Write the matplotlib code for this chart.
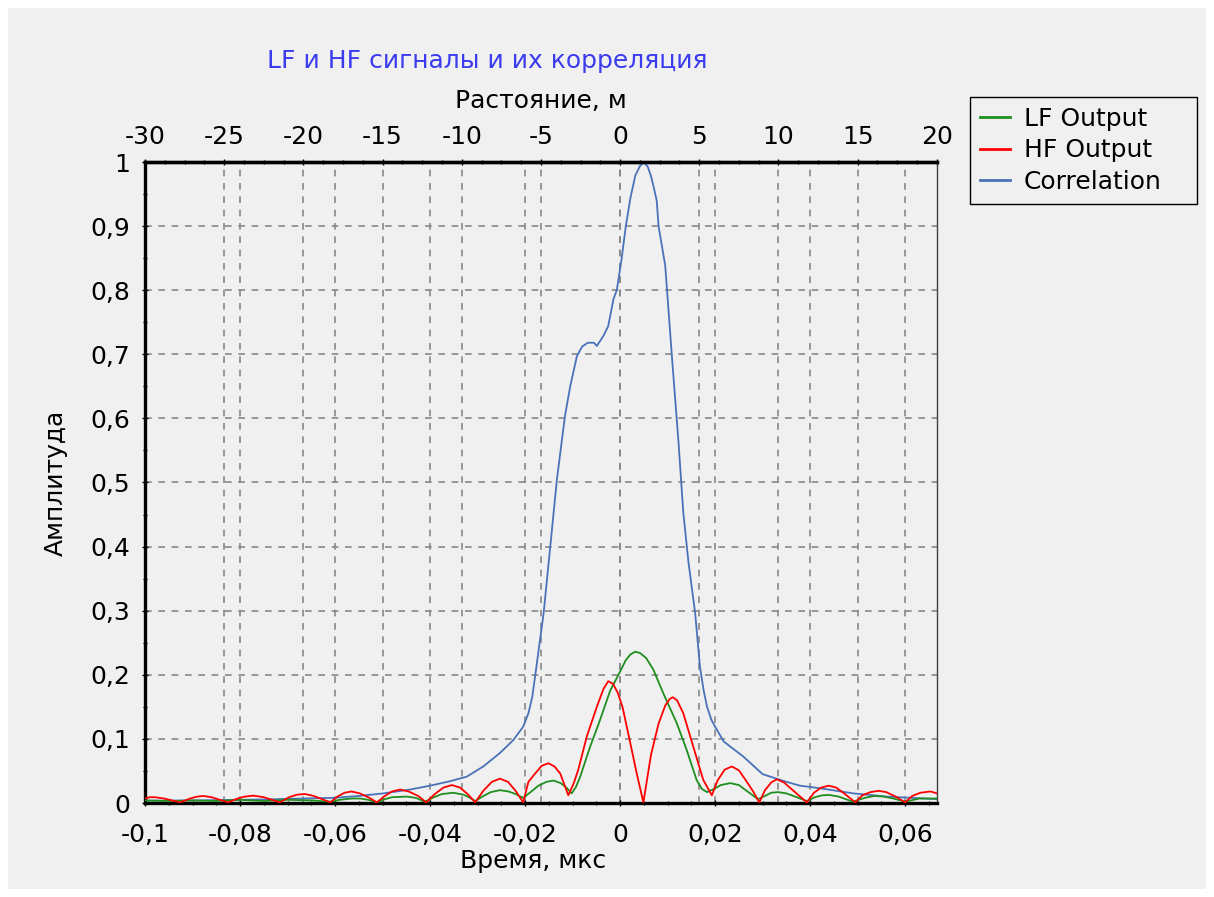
import matplotlib
matplotlib.use("Agg")
import matplotlib.pyplot as plt
from matplotlib.ticker import FixedLocator, AutoMinorLocator, FuncFormatter
from matplotlib.patches import Rectangle

plt.rcParams['font.family'] = ['DejaVu Sans']

# ---------------- data ----------------
title_text = "LF и HF сигналы и их корреляция"
xlabel_bottom = "Время, мкс"
xlabel_top = "Растояние, м"
ylabel_text = "Амплитуда"
series_names = ["LF Output", "HF Output", "Correlation"]

t_lf = [-0.1, -0.095, -0.09, -0.085, -0.08, -0.075, -0.07, -0.065, -0.061,
        -0.059, -0.0565, -0.0547, -0.053, -0.0512,
        -0.0495, -0.048, -0.0449, -0.043, -0.0411,
        -0.0395, -0.0375, -0.0351, -0.033, -0.0318, -0.0305,
        -0.029, -0.0272, -0.0253, -0.0235, -0.022, -0.0204,
        -0.019, -0.0172, -0.0155, -0.014, -0.0125, -0.0113, -0.0102,
        -0.0093, -0.0084, -0.0063, -0.0042, -0.0021, 0.0, 0.0012, 0.0022, 0.0032,
        0.0042, 0.0055, 0.007, 0.0091, 0.0119, 0.014, 0.0161, 0.0172, 0.0183,
        0.0195, 0.0212, 0.0232, 0.025, 0.027, 0.029,
        0.0305, 0.0318, 0.0333, 0.035, 0.0372, 0.0393,
        0.041, 0.0425, 0.044, 0.046, 0.049,
        0.0515, 0.0535, 0.0555, 0.0575, 0.06, 0.063, 0.0667]
lf = [0.004, 0.003, 0.004, 0.003, 0.005, 0.003, 0.005, 0.004, 0.002,
      0.005, 0.007, 0.007, 0.005, 0.001,
      0.006, 0.009, 0.010, 0.008, 0.002,
      0.008, 0.014, 0.016, 0.013, 0.009, 0.003,
      0.010, 0.017, 0.020, 0.018, 0.014, 0.008,
      0.016, 0.027, 0.033, 0.035, 0.031, 0.024, 0.015,
      0.025, 0.041, 0.088, 0.130, 0.175, 0.205, 0.223, 0.232, 0.236,
      0.234, 0.226, 0.208, 0.171, 0.125, 0.083, 0.036, 0.022, 0.017,
      0.021, 0.028, 0.031, 0.028, 0.017, 0.006,
      0.011, 0.016, 0.017, 0.015, 0.009, 0.003,
      0.009, 0.012, 0.0125, 0.010, 0.002,
      0.008, 0.011, 0.010, 0.007, 0.002, 0.007, 0.007]

t_hf = [-0.1, -0.099, -0.0979, -0.096, -0.0926,
        -0.0905, -0.089, -0.0877, -0.086, -0.0825,
        -0.0805, -0.079, -0.0772, -0.075, -0.0716,
        -0.0697, -0.068, -0.0663, -0.0645, -0.061,
        -0.0595, -0.058, -0.0565, -0.0548, -0.053, -0.0512,
        -0.0495, -0.048, -0.0463, -0.0445, -0.0425, -0.0408,
        -0.039, -0.0372, -0.0354, -0.0337, -0.0321, -0.0305,
        -0.0288, -0.027, -0.0253, -0.0236, -0.022, -0.0204,
        -0.0193, -0.018, -0.0165, -0.0151, -0.0138, -0.0126, -0.0109,
        -0.0098, -0.0088, -0.007, -0.0049, -0.0035, -0.0025, -0.0015, -0.0005,
        0.0005, 0.0021, 0.0035, 0.0049,
        0.0065, 0.0081, 0.0095, 0.0104, 0.0111, 0.012, 0.0133, 0.0154, 0.0175, 0.0193,
        0.0205, 0.022, 0.0235, 0.025, 0.0265, 0.028, 0.0293,
        0.0305, 0.0318, 0.033, 0.0345, 0.0365, 0.0393,
        0.0408, 0.0423, 0.0439, 0.0455, 0.0475, 0.0495,
        0.051, 0.0527, 0.0544, 0.056, 0.058, 0.06,
        0.0615, 0.0632, 0.0653, 0.0667]
hf = [0.007, 0.009, 0.009, 0.007, 0.001,
      0.007, 0.010, 0.011, 0.009, 0.001,
      0.007, 0.010, 0.0115, 0.009, 0.001,
      0.009, 0.013, 0.014, 0.011, 0.001,
      0.010, 0.016, 0.018, 0.015, 0.009, 0.001,
      0.011, 0.018, 0.021, 0.018, 0.011, 0.001,
      0.014, 0.024, 0.028, 0.024, 0.014, 0.001,
      0.019, 0.033, 0.038, 0.033, 0.019, 0.001,
      0.033, 0.045, 0.058, 0.062, 0.057, 0.046, 0.012,
      0.030, 0.052, 0.104, 0.150, 0.178, 0.190, 0.186, 0.172,
      0.150, 0.095, 0.046, 0.001,
      0.075, 0.124, 0.152, 0.162, 0.165, 0.160, 0.140, 0.088, 0.036, 0.012,
      0.035, 0.052, 0.057, 0.051, 0.035, 0.018, 0.001,
      0.020, 0.032, 0.037, 0.032, 0.019, 0.001,
      0.016, 0.024, 0.027, 0.024, 0.013, 0.001,
      0.012, 0.017, 0.019, 0.017, 0.010, 0.001,
      0.011, 0.016, 0.018, 0.015]

t_corr = [-0.1, -0.09, -0.08, -0.0744, -0.07, -0.0604, -0.055, -0.0498, -0.0442, -0.04,
          -0.0358, -0.0323, -0.0288, -0.0253, -0.0225, -0.0204, -0.0193, -0.0185, -0.0179,
          -0.0161, -0.0147, -0.0133, -0.0116, -0.0105, -0.0091, -0.008, -0.0068, -0.0055,
          -0.0049, -0.0035, -0.0025, -0.0014, -0.0007, 0.0003, 0.0012, 0.0022, 0.0032,
          0.0042, 0.005, 0.0058, 0.0065, 0.0071, 0.0077, 0.0081, 0.0095, 0.0109, 0.0123,
          0.0133, 0.0144, 0.0158, 0.0168, 0.0176, 0.0183, 0.0192, 0.02, 0.0218, 0.026,
          0.03, 0.035, 0.0379, 0.0421, 0.0491, 0.0561, 0.0667]
corr = [0.0036, 0.004, 0.005, 0.0055, 0.0065, 0.008, 0.011, 0.015, 0.021, 0.027,
        0.034, 0.041, 0.057, 0.078, 0.098, 0.119, 0.140, 0.165, 0.197,
        0.296, 0.400, 0.505, 0.604, 0.650, 0.697, 0.712, 0.718, 0.718,
        0.713, 0.729, 0.744, 0.786, 0.800, 0.848, 0.900, 0.945, 0.979,
        0.994, 0.999, 0.993, 0.978, 0.960, 0.940, 0.900, 0.838, 0.697, 0.562,
        0.453, 0.375, 0.296, 0.213, 0.175, 0.150, 0.130, 0.119, 0.096, 0.072,
        0.045, 0.033, 0.027, 0.023, 0.015, 0.010, 0.006]

x_ticks = [-0.1, -0.08, -0.06, -0.04, -0.02, 0.0, 0.02, 0.04, 0.06]
top_ticks = [-30, -25, -20, -15, -10, -5, 0, 5, 10, 15, 20]
y_ticks = [0, 0.1, 0.2, 0.3, 0.4, 0.5, 0.6, 0.7, 0.8, 0.9, 1.0]
x_min, x_max = -0.1, 0.0667
m_per_us = 300.0

# ---------------- figure ----------------
W, H = 1214, 897
fig = plt.figure(figsize=(W / 100, H / 100), dpi=100)
fig.patch.set_facecolor('white')
fig.patches.append(Rectangle((8 / W, 8 / H), 1 - 16 / W, 1 - 16 / H,
                             transform=fig.transFigure, facecolor='#f0f0f0',
                             edgecolor='none', zorder=-10))

ax = fig.add_axes([145 / W, 94 / H, (937 - 145) / W, (803 - 162) / H])
ax.set_facecolor('#f0f0f0')

c_lf, c_hf, c_corr = '#1f8f1f', '#ff0000', '#4a72b8'
l1, = ax.plot(t_lf, lf, color=c_lf, lw=1.3, zorder=3)
l2, = ax.plot(t_hf, hf, color=c_hf, lw=1.3, zorder=4)
l3, = ax.plot(t_corr, corr, color=c_corr, lw=1.3, zorder=2)

ax.set_xlim(x_min, x_max)
ax.set_ylim(0, 1)

fmt = FuncFormatter(lambda v, p: (f"{round(v, 6):g}").replace('.', ','))
ax.xaxis.set_major_locator(FixedLocator(x_ticks))
ax.xaxis.set_minor_locator(AutoMinorLocator(4))
ax.yaxis.set_major_locator(FixedLocator(y_ticks))
ax.yaxis.set_minor_locator(AutoMinorLocator(2))
ax.xaxis.set_major_formatter(fmt)
ax.yaxis.set_major_formatter(fmt)

fs = 18
ax.tick_params(axis='both', which='major', labelsize=fs, length=5, width=1,
               direction='inout', colors='black', pad=8)
ax.tick_params(axis='x', which='major', pad=12)
ax.tick_params(axis='both', which='minor', length=3, width=1, direction='inout')

grid_kw = dict(color='#888888', lw=1.2, ls=(0, (4, 4)), zorder=1)
for y in y_ticks[1:-1]:
    ax.axhline(y, **grid_kw)
for x in x_ticks[1:]:
    ax.axvline(x, **grid_kw)
for d in top_ticks[1:-1]:
    ax.axvline(d / m_per_us, **grid_kw)

for s in ['left', 'bottom', 'top']:
    ax.spines[s].set_linewidth(2.4)
    ax.spines[s].set_color('black')
ax.spines['right'].set_linewidth(1.0)
ax.spines['right'].set_color('#404040')

sec = ax.secondary_xaxis('top', functions=(lambda t: t * m_per_us, lambda d: d / m_per_us))
sec.xaxis.set_major_locator(FixedLocator(top_ticks))
sec.xaxis.set_minor_locator(AutoMinorLocator(4))
sec.xaxis.set_major_formatter(fmt)
sec.tick_params(axis='x', which='major', labelsize=fs, length=5, width=1,
                direction='inout', pad=7)
sec.tick_params(axis='x', which='minor', length=3, width=1, direction='inout')
sec.spines['top'].set_linewidth(2.4)
sec.set_xlabel(xlabel_top, fontsize=fs, labelpad=12)

ax.set_xlabel(xlabel_bottom, fontsize=fs)
ax.xaxis.set_label_coords((533 - 145) / 792, -46 / 641)
ax.set_ylabel(ylabel_text, fontsize=fs)
ax.yaxis.set_label_coords(-77 / 792, 0.5)

fig.text(487 / W, 1 - 61 / H, title_text, color='#3b3bf0', fontsize=fs,
         ha='center', va='center')

leg = fig.legend([l1, l2, l3], series_names, loc='upper left',
                 bbox_to_anchor=(970 / W, 1 - 200 / H, 227 / W, 103 / H),
                 mode='expand', fontsize=fs,
                 frameon=True, fancybox=False, framealpha=1, borderpad=0.4,
                 handlelength=1.2, handletextpad=0.55, labelspacing=0.3,
                 borderaxespad=0)
leg.get_frame().set_facecolor('#f0f0f0')
leg.get_frame().set_edgecolor('black')
leg.get_frame().set_linewidth(1.0)
for h in leg.get_lines():
    h.set_linewidth(2.0)

fig.savefig('out.png', dpi=100, facecolor=fig.get_facecolor())
